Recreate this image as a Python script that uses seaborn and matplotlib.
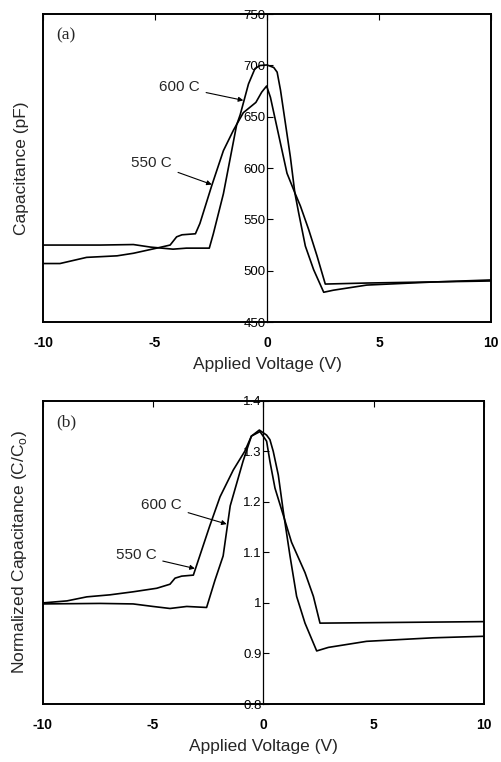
import numpy as np
import pandas as pd
import matplotlib
matplotlib.use("Agg")
import matplotlib.pyplot as plt
import seaborn as sns

# ---------------- data ----------------
# Panel (a): capacitance (pF) vs applied voltage (V)
a550_v = [-10, -9.25, -8.06, -6.7, -5.97, -4.93, -4.33, -4.04, -3.8, -3.2, -3.0, -2.47,
          -1.95, -1.5, -1.06, -0.5, -0.24, -0.02, 0.15, 0.37, 0.6, 0.89, 1.24, 1.49,
          1.86, 2.23, 2.6, 4.45, 10]
a550_c = [507, 507, 513, 514.5, 517, 522, 525, 533, 535, 536, 546, 583,
          617, 637, 654, 664, 674, 680, 669, 647, 624, 595, 576, 563,
          540, 514.5, 487, 488, 490]
a600_v = [-10, -7.46, -5.97, -5.2, -4.2, -3.6, -3.0, -2.58, -2.4, -1.95, -1.36, -1.2,
          -0.83, -0.54, -0.31, 0.0, 0.3, 0.45, 0.6, 0.82, 1.04, 1.24, 1.41, 1.71,
          2.08, 2.53, 2.96, 4.45, 7.43, 10]
a600_c = [525, 525, 525.5, 523, 521, 522, 522, 522, 536, 575, 642, 652,
          682, 697, 700, 700.5, 698, 693.5, 676, 643.5, 611, 576, 556.5, 524,
          501, 479, 481, 486, 489, 491]

# Panel (b): normalized capacitance C/Co vs applied voltage (V)
b550_v = [-10, -8.9, -8.0, -6.95, -5.9, -4.83, -4.23, -4.0, -3.7, -3.17, -2.88, -2.43,
          -1.96, -1.36, -0.84, -0.54, -0.15, 0.15, 0.3, 0.53, 0.91, 1.28, 1.89,
          2.27, 2.57, 10]
b550_r = [1.0, 1.004, 1.012, 1.016, 1.022, 1.029, 1.037, 1.049, 1.053, 1.055, 1.093, 1.152,
          1.21, 1.263, 1.30, 1.33, 1.339, 1.32, 1.28, 1.227, 1.173, 1.12, 1.06,
          1.013, 0.96, 0.963]
b600_v = [-10, -7.4, -5.9, -5.0, -4.23, -3.47, -2.57, -2.19, -1.82, -1.5, -0.92, -0.54,
          -0.18, 0.15, 0.3, 0.45, 0.68, 0.91, 1.21, 1.51, 1.89, 2.42, 2.95,
          4.68, 7.7, 10]
b600_r = [0.998, 0.999, 0.998, 0.993, 0.989, 0.993, 0.991, 1.045, 1.093, 1.192, 1.28, 1.33,
          1.342, 1.332, 1.323, 1.30, 1.253, 1.18, 1.093, 1.013, 0.96, 0.905, 0.912,
          0.924, 0.931, 0.934]

x_ticks = [-10, -5, 0, 5, 10]
ya_ticks = [450, 500, 550, 600, 650, 700, 750]
yb_ticks = [0.8, 0.9, 1.0, 1.1, 1.2, 1.3, 1.4]
yb_labels = ["0.8", "0.9", "1", "1.1", "1.2", "1.3", "1.4"]

df_a = pd.concat([
    pd.DataFrame({"V": a550_v, "C": a550_c, "T": "550 C"}),
    pd.DataFrame({"V": a600_v, "C": a600_c, "T": "600 C"}),
])
df_b = pd.concat([
    pd.DataFrame({"V": b550_v, "C": b550_r, "T": "550 C"}),
    pd.DataFrame({"V": b600_v, "C": b600_r, "T": "600 C"}),
])

sns.set_style("white")
plt.rcParams["font.family"] = ["Liberation Sans", "DejaVu Sans"]

fig = plt.figure(figsize=(5.02, 7.62), dpi=100)
ax_a = fig.add_axes([0.086, 0.5774, 0.892, 0.404])
ax_b = fig.add_axes([0.085, 0.0761, 0.879, 0.398])


def style_axes(ax, df, yticks, ylabels, ylim, ylabel, tag, ann):
    sns.lineplot(data=df, x="V", y="C", units="T", estimator=None, color="black",
                 lw=1.2, ax=ax, legend=False, sort=False)
    ax.set_xlim(-10, 10)
    ax.set_ylim(*ylim)
    for s in ax.spines.values():
        s.set_color("black")
        s.set_linewidth(1.4)
    ax.set_xticks(x_ticks)
    ax.set_xticklabels([str(t) for t in x_ticks], fontweight="bold", fontsize=10)
    ax.tick_params(axis="x", direction="in", top=True, length=4, width=0.8, pad=10, colors="black")
    ax.set_yticks([])
    ax.set_xlabel("Applied Voltage (V)", fontsize=12.5, labelpad=5)
    ax.set_ylabel(ylabel, fontsize=12.5, labelpad=10)
    sec = ax.secondary_yaxis(0.5)
    sec.yaxis.set_ticks_position("left")
    sec.yaxis.set_label_position("left")
    sec.set_yticks(yticks)
    sec.set_yticklabels(ylabels, fontsize=9.5)
    sec.tick_params(axis="y", which="both", left=True, right=False, labelleft=True,
                    labelright=False, direction="in", length=4, width=0.8, pad=1,
                    colors="black")
    for side in ("left", "right"):
        sec.spines[side].set_linewidth(0.9)
        sec.spines[side].set_color("black")
    ax.text(0.03, 0.93, tag, transform=ax.transAxes, fontsize=12.5,
            family=["Liberation Serif", "DejaVu Serif"], va="center", ha="left")
    for label, txy, xy in ann:
        ax.annotate(label, xy=xy, xytext=txy, fontsize=11, ha="center", va="center",
                    arrowprops=dict(arrowstyle="-|>", color="black", lw=0.8,
                                    mutation_scale=7, shrinkA=2, shrinkB=0))


style_axes(ax_a, df_a, ya_ticks, [str(t) for t in ya_ticks], (450, 750),
           "Capacitance (pF)", "(a)",
           [("600 C", (-3.9, 679), (-1.06, 666)),
            ("550 C", (-5.15, 605), (-2.47, 584))])
style_axes(ax_b, df_b, yb_ticks, yb_labels, (0.8, 1.4),
           "Normalized Capacitance (C/C$_\\mathregular{o}$)", "(b)",
           [("600 C", (-4.6, 1.194), (-1.66, 1.156)),
            ("550 C", (-5.75, 1.095), (-3.1, 1.068))])

fig.savefig("out.png", dpi=100)
